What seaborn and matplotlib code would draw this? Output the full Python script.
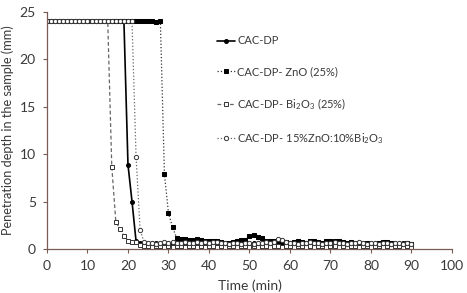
import matplotlib
matplotlib.use("Agg")
import matplotlib.pyplot as plt
import seaborn as sns
import pandas as pd

# time axis, one reading per minute
time = list(range(0, 91))

# penetration depth (mm)
cac_dp = [24.0, 24.0, 24.0, 24.0, 24.0, 24.0, 24.0, 24.0, 24.0, 24.0,
          24.0, 24.0, 24.0, 24.0, 24.0, 24.0, 24.0, 24.0, 24.0, 24.0,
          8.9, 5.0, 0.8, 0.6, 0.6, 0.5, 0.6, 0.6, 0.5, 0.5,
          0.6, 0.5, 0.6, 0.6, 0.5, 0.6, 0.6, 0.5, 0.5, 0.6,
          0.5, 0.5, 0.6, 0.5, 0.5, 0.6, 0.5, 0.5, 0.6, 0.6,
          0.5, 0.6, 0.5, 0.5, 0.6, 0.5, 0.5, 0.6, 0.5, 0.5,
          0.5, 0.6, 0.5, 0.5, 0.6, 0.5, 0.6, 0.6, 0.5, 0.5,
          0.6, 0.5, 0.5, 0.6, 0.5, 0.5, 0.6, 0.5, 0.5, 0.6,
          0.5, 0.5, 0.6, 0.5, 0.5, 0.6, 0.5, 0.5, 0.6, 0.5,
          0.5]

zno_25 = [24.0, 24.0, 24.0, 24.0, 24.0, 24.0, 24.0, 24.0, 24.0, 24.0,
          24.0, 24.0, 24.0, 24.0, 24.0, 24.0, 24.0, 24.0, 24.0, 24.0,
          24.0, 24.0, 24.0, 24.0, 24.0, 24.0, 24.0, 23.9, 24.0, 7.9,
          3.8, 2.3, 1.2, 1.1, 1.1, 1.0, 1.0, 1.1, 1.0, 0.9,
          0.8, 0.9, 0.8, 0.7, 0.6, 0.6, 0.7, 0.8, 1.0, 1.0,
          1.4, 1.5, 1.3, 1.2, 0.9, 0.9, 0.8, 0.7, 0.6, 0.7,
          0.6, 0.7, 0.8, 0.7, 0.6, 0.8, 0.8, 0.7, 0.6, 0.9,
          0.9, 0.9, 0.8, 0.7, 0.6, 0.7, 0.5, 0.6, 0.5, 0.6,
          0.4, 0.5, 0.6, 0.7, 0.7, 0.6, 0.5, 0.4, 0.5, 0.6,
          0.5]

bi2o3_25 = [24.0, 24.0, 24.0, 24.0, 24.0, 24.0, 24.0, 24.0, 24.0, 24.0,
            24.0, 24.0, 24.0, 24.0, 24.0, 24.0, 8.7, 2.9, 2.1, 1.4,
            0.9, 0.7, 0.7, 0.4, 0.3, 0.3, 0.2, 0.3, 0.3, 0.2,
            0.3, 0.2, 0.3, 0.3, 0.2, 0.3, 0.3, 0.2, 0.3, 0.2,
            0.3, 0.3, 0.2, 0.3, 0.2, 0.3, 0.3, 0.2, 0.3, 0.3,
            0.2, 0.3, 0.2, 0.3, 0.3, 0.2, 0.3, 0.3, 0.2, 0.3,
            0.3, 0.2, 0.3, 0.3, 0.2, 0.3, 0.2, 0.3, 0.3, 0.2,
            0.3, 0.3, 0.2, 0.3, 0.2, 0.3, 0.3, 0.2, 0.3, 0.3,
            0.2, 0.3, 0.3, 0.2, 0.3, 0.2, 0.3, 0.3, 0.2, 0.3,
            0.2]

zno_bi2o3 = [24.0, 24.0, 24.0, 24.0, 24.0, 24.0, 24.0, 24.0, 24.0, 24.0,
             24.0, 24.0, 24.0, 24.0, 24.0, 24.0, 24.0, 24.0, 24.0, 24.0,
             24.0, 24.0, 9.7, 2.0, 0.7, 0.6, 0.6, 0.5, 0.6, 0.7,
             0.6, 0.7, 0.6, 0.6, 0.7, 0.6, 0.6, 0.7, 0.6, 0.7,
             0.6, 0.7, 0.7, 0.6, 0.6, 0.5, 0.6, 0.6, 0.5, 0.6,
             0.6, 0.5, 0.6, 0.6, 0.7, 0.6, 0.7, 1.1, 1.0, 0.7,
             0.6, 0.6, 0.5, 0.6, 0.6, 0.7, 0.6, 0.6, 0.5, 0.6,
             0.6, 0.7, 0.6, 0.6, 0.5, 0.6, 0.6, 0.7, 0.6, 0.5,
             0.6, 0.6, 0.5, 0.6, 0.6, 0.5, 0.6, 0.6, 0.5, 0.6,
             0.5]

labels = ["CAC-DP", "CAC-DP- ZnO (25%)", "CAC-DP- Bi$_2$O$_3$ (25%)",
          "CAC-DP- 15%ZnO:10%Bi$_2$O$_3$"]

sns.set_theme(style="white")
plt.rcParams["font.family"] = ["Lato", "DejaVu Sans"]
plt.rcParams["mathtext.fontset"] = "custom"
plt.rcParams["mathtext.rm"] = "Lato"

axis_col = "#7a5c55"
text_col = "#3a3a3a"

fig = plt.figure(figsize=(4.67, 2.93), dpi=100)
ax = fig.add_axes([0.1006, 0.150, 0.8672, 0.809])

df = pd.DataFrame({"time": time, "a": cac_dp, "b": zno_25, "c": bi2o3_25, "d": zno_bi2o3})

sns.lineplot(data=df, x="time", y="a", ax=ax, color="black", linewidth=1.2,
             marker="o", markersize=2.8, markeredgecolor="black", markerfacecolor="black",
             label=labels[0])
sns.lineplot(data=df, x="time", y="b", ax=ax, color="#333333", linewidth=0.9, linestyle=":",
             marker="s", markersize=3.1, markeredgecolor="black", markerfacecolor="black",
             label=labels[1])
sns.lineplot(data=df, x="time", y="c", ax=ax, color="#666666", linewidth=0.9, linestyle=(0, (3, 2)),
             marker="s", markersize=3.1, markeredgecolor="#333333", markerfacecolor="white",
             markeredgewidth=0.7, label=labels[2])
sns.lineplot(data=df, x="time", y="d", ax=ax, color="#666666", linewidth=0.9, linestyle=":",
             marker="o", markersize=3.1, markeredgecolor="#333333", markerfacecolor="white",
             markeredgewidth=0.7, label=labels[3])

ax.set_xlim(0, 100)
ax.set_ylim(0, 25)
ax.set_xticks(range(0, 101, 10))
ax.set_yticks(range(0, 26, 5))
ax.set_xlabel("Time (min)", fontsize=10, color=text_col, labelpad=5)
ax.set_ylabel("Penetration depth in the sample (mm)", fontsize=9.2, color=text_col, labelpad=4)
ax.tick_params(axis="both", labelsize=10, colors=text_col, direction="out",
               length=3, width=0.8, color=axis_col, bottom=True, left=True, pad=5)

sns.despine(ax=ax)
for side in ["left", "bottom"]:
    ax.spines[side].set_color(axis_col)
    ax.spines[side].set_linewidth(0.9)

leg = ax.legend(loc="upper left", bbox_to_anchor=(0.41, 0.92), frameon=False,
                fontsize=8, handlelength=1.6, handletextpad=0.2, labelspacing=1.75,
                borderaxespad=0)
for t in leg.get_texts():
    t.set_color(text_col)

fig.savefig("out.png", dpi=100)
